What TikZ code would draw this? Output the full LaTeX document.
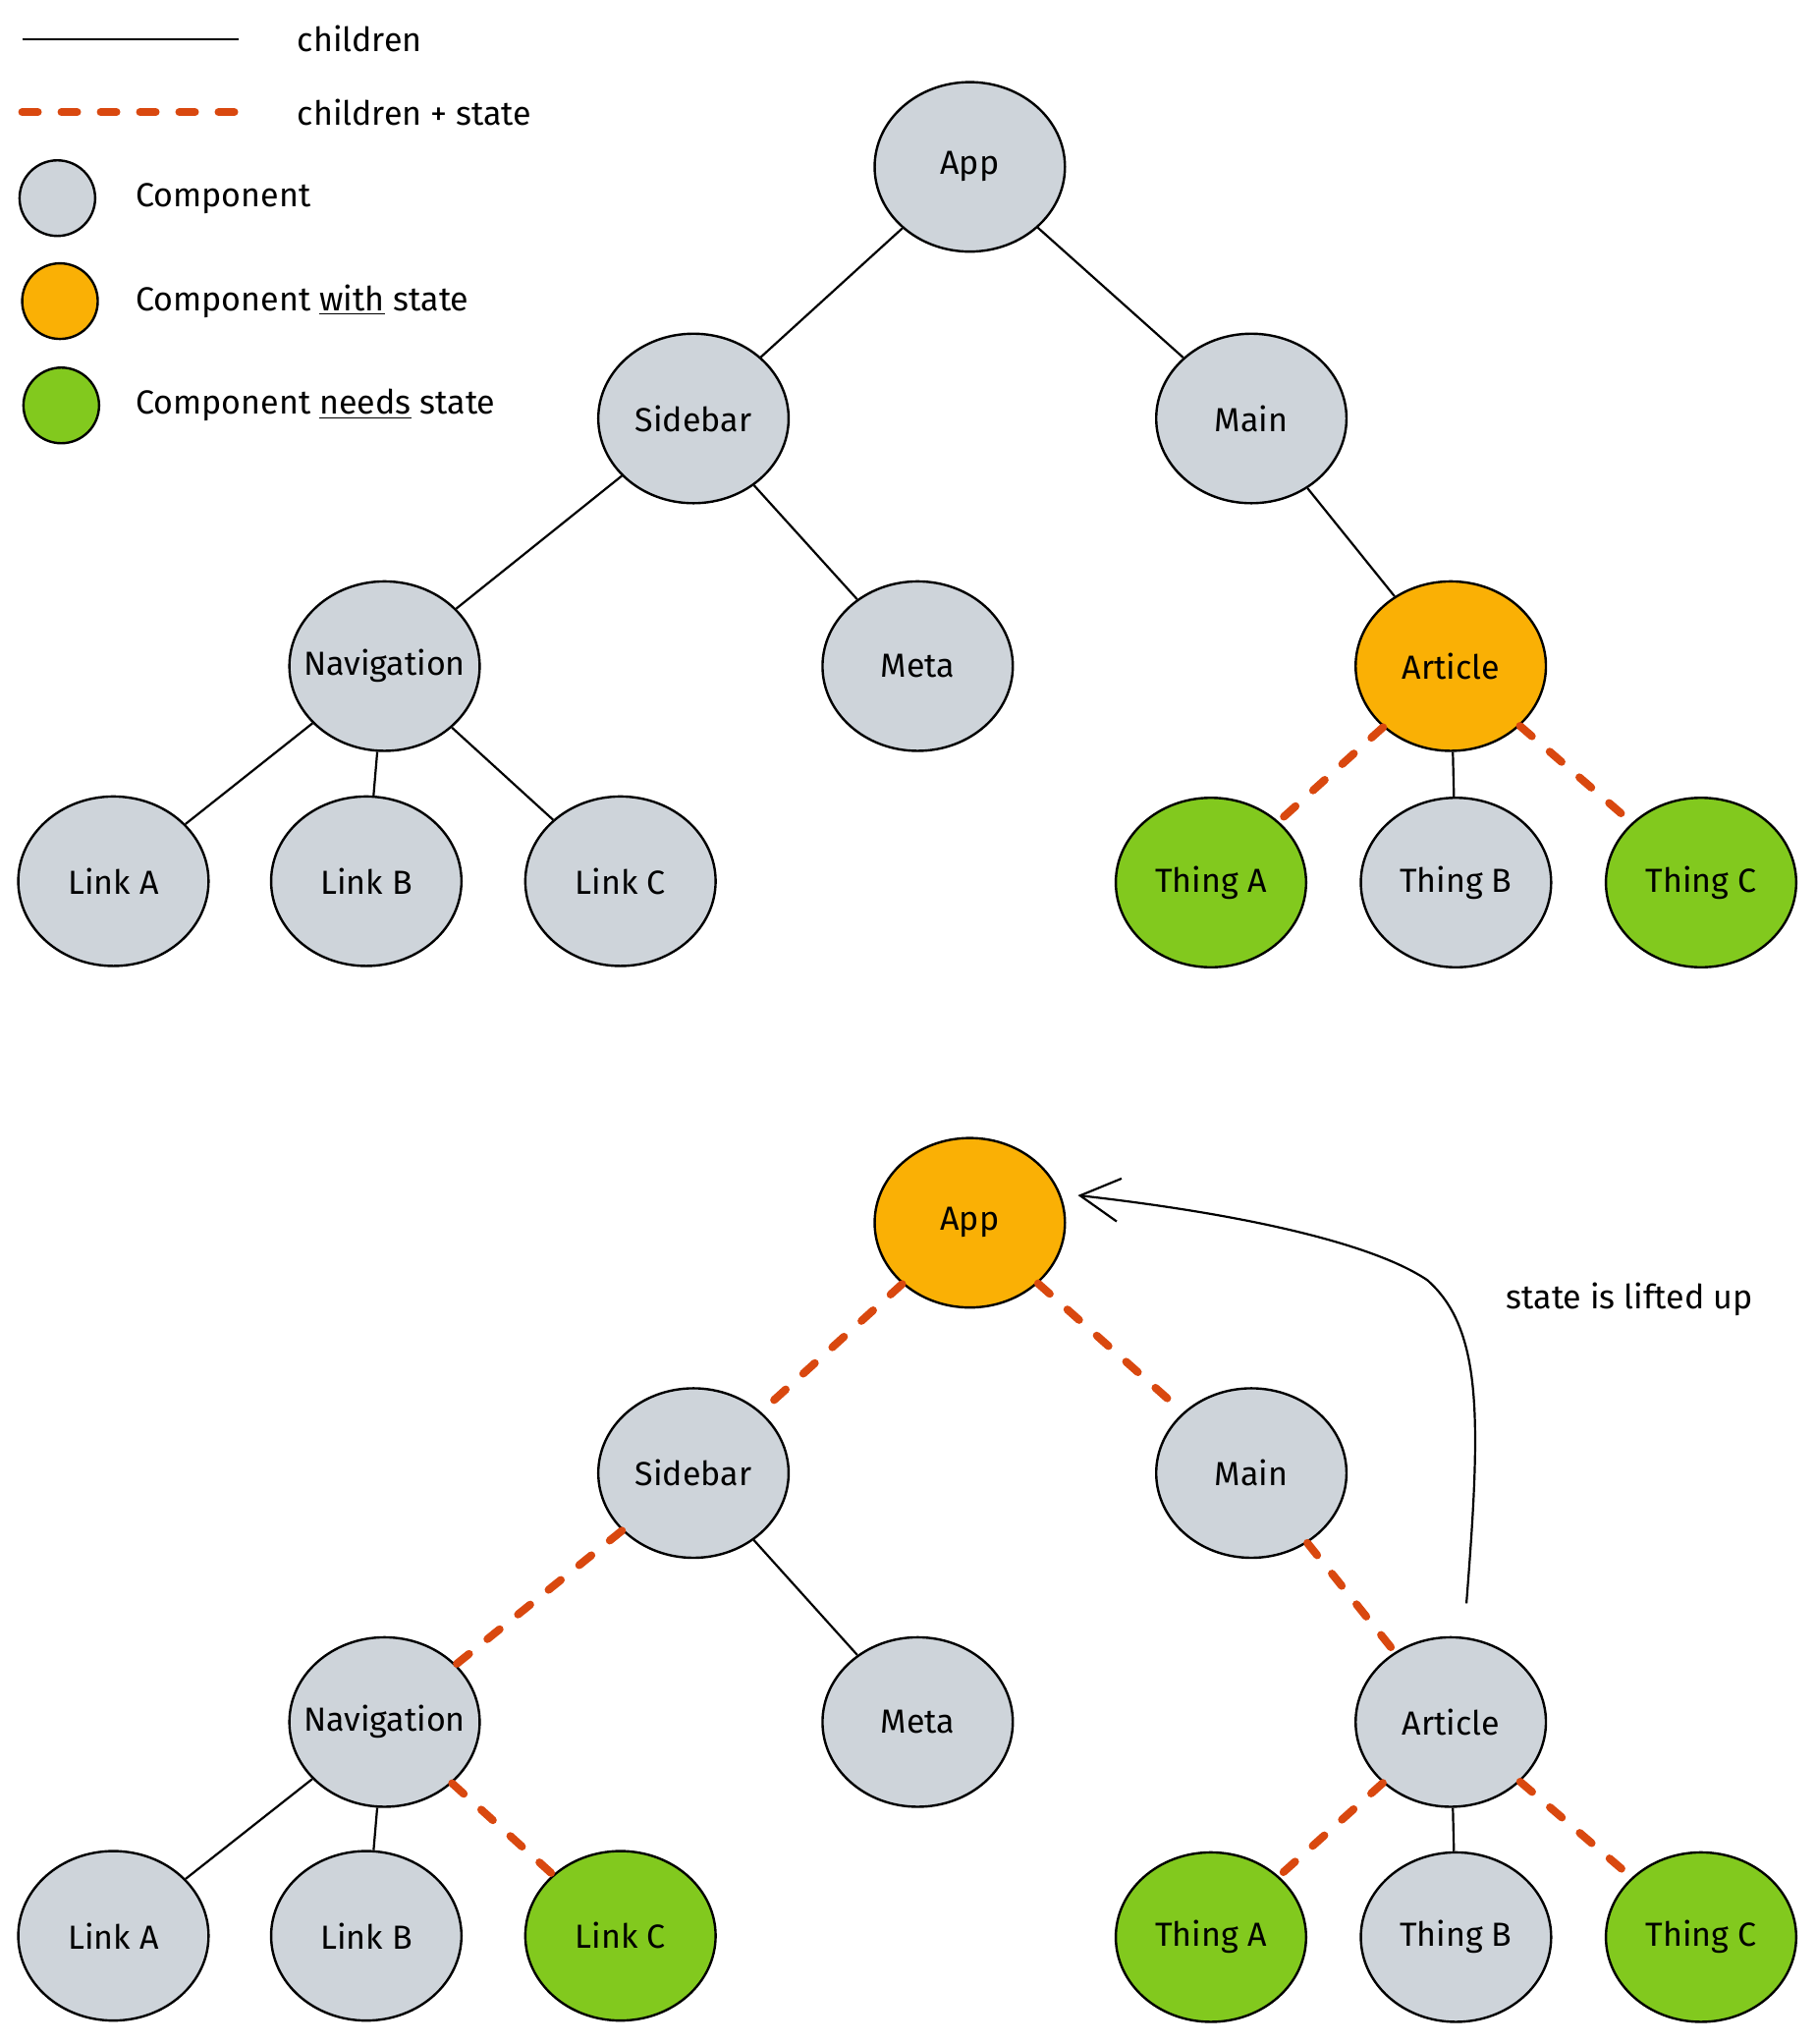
\documentclass[tikz,border=0pt]{standalone}
\usepackage{fontspec}
\setmainfont{Fira Sans}
\usetikzlibrary{shapes.geometric,arrows.meta}
\definecolor{compgray}{HTML}{CED4DA}
\definecolor{stateorange}{HTML}{FAB005}
\definecolor{needgreen}{HTML}{82C91E}
\definecolor{flowred}{HTML}{D9480F}

\begin{document}
\begin{tikzpicture}[x=0.6637pt,y=-0.6637pt,
  comp/.style={ellipse, draw=black, line width=1.2pt, fill=compgray,
    minimum width=96.9pt, minimum height=86.3pt, inner xsep=-9pt, inner ysep=0pt,
    font=\fontsize{17}{20}\selectfont},
  withstate/.style={comp, fill=stateorange},
  needsstate/.style={comp, fill=needgreen},
  kidline/.style={draw=black, line width=1.1pt},
  kidstate/.style={draw=flowred, line width=4pt, line cap=round,
    dash pattern=on 8pt off 12pt},
  legdot/.style={circle, draw=black, line width=1.2pt, minimum size=38.5pt, inner sep=0pt},
  legtext/.style={anchor=west, font=\fontsize{17}{20}\selectfont, inner sep=0pt},
]
\fill[white] (0,0) rectangle (1393,1568);
\useasboundingbox (0,0) rectangle (1393,1568);

% ---------- legend ----------
\coordinate (solidA) at (17,30);
\coordinate (solidB) at (183,30);
\coordinate (dashA) at (17,86);
\coordinate (dashB) at (183,86);
\draw[kidline] (solidA) -- (solidB);
\draw[kidstate] (dashA) -- (dashB);
\node[legtext] (tChildren) at (228,30) {children};
\node[legtext] (tChildState) at (228,86) {children + state};
\node[legdot, fill=compgray] (dotGray) at (44,152) {};
\node[legdot, fill=stateorange] (dotOrange) at (46,231) {};
\node[legdot, fill=needgreen] (dotGreen) at (47,311) {};
\node[legtext] (tComp) at (104,152) {Component};
\node[legtext] (tWith) at (104,231) {Component \underline{with} state};
\node[legtext] (tNeeds) at (104,311) {Component \underline{needs} state};

% ---------- tree before lifting ----------
\node[comp] (app) at (744,128) {App};
\node[comp] (sidebar) at (532,321) {Sidebar};
\node[comp] (main) at (960,321) {Main};
\node[comp] (nav) at (295,511) {Navigation};
\node[comp] (meta) at (704,511) {Meta};
\node[withstate] (article) at (1113,511) {Article};
\node[comp] (linkA) at (87,676) {Link A};
\node[comp] (linkB) at (281,676) {Link B};
\node[comp] (linkC) at (476,676) {Link C};
\node[needsstate] (thingA) at (929,677) {Thing A};
\node[comp] (thingB) at (1117,677) {Thing B};
\node[needsstate] (thingC) at (1305,677) {Thing C};

\draw[kidline] (app) -- (sidebar);
\draw[kidline] (app) -- (main);
\draw[kidline] (sidebar) -- (nav);
\draw[kidline] (sidebar) -- (meta);
\draw[kidline] (main) -- (article);
\draw[kidline] (nav) -- (linkA);
\draw[kidline] (nav) -- (linkB);
\draw[kidline] (nav) -- (linkC);
\draw[kidline] (article) -- (thingB);
\draw[kidstate] (article) -- (thingA);
\draw[kidstate] (article) -- (thingC);

% ---------- tree after lifting ----------
\node[withstate] (appB) at (744,938) {App};
\node[comp] (sidebarB) at (532,1130) {Sidebar};
\node[comp] (mainB) at (960,1130) {Main};
\node[comp] (navB) at (295,1321) {Navigation};
\node[comp] (metaB) at (704,1321) {Meta};
\node[comp] (articleB) at (1113,1321) {Article};
\node[comp] (linkAB) at (87,1485) {Link A};
\node[comp] (linkBB) at (281,1485) {Link B};
\node[needsstate] (linkCB) at (476,1485) {Link C};
\node[needsstate] (thingAB) at (929,1486) {Thing A};
\node[comp] (thingBB) at (1117,1486) {Thing B};
\node[needsstate] (thingCB) at (1305,1486) {Thing C};

\draw[kidstate] (appB) -- (sidebarB);
\draw[kidstate] (appB) -- (mainB);
\draw[kidstate] (sidebarB) -- (navB);
\draw[kidline] (sidebarB) -- (metaB);
\draw[kidstate] (mainB) -- (articleB);
\draw[kidline] (navB) -- (linkAB);
\draw[kidline] (navB) -- (linkBB);
\draw[kidstate] (navB) -- (linkCB);
\draw[kidline] (articleB) -- (thingBB);
\draw[kidstate] (articleB) -- (thingAB);
\draw[kidstate] (articleB) -- (thingCB);

% ---------- lifting arrow ----------
\coordinate (liftStart) at (1125,1230);
\draw[line width=1.1pt, -{Straight Barb[length=20pt,width=22pt,line width=1.1pt]},
  shorten >=9pt]
  (liftStart) .. controls (1136,1090) and (1138,1020) .. (1095,982)
  .. controls (1055,955) and (960,932) .. (appB.18);
\node[font=\fontsize{17}{20}\selectfont, inner sep=0pt] (liftText) at (1250,997) {state is lifted up};
\end{tikzpicture}
\end{document}
